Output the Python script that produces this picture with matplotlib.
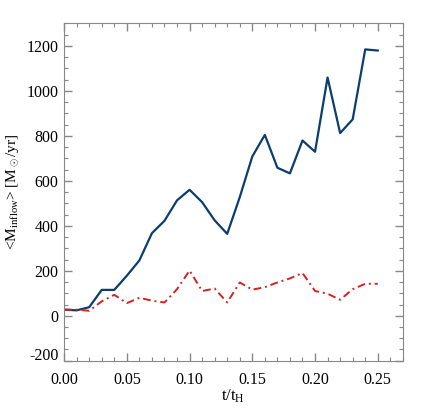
import numpy as np
import matplotlib
matplotlib.use("Agg")
import matplotlib.pyplot as plt
import matplotlib.transforms as mtransforms
from matplotlib.ticker import MultipleLocator

# time in units of the Hubble time
t_h = [0.00, 0.01, 0.02, 0.03, 0.04, 0.05, 0.06, 0.07, 0.08, 0.09,
       0.10, 0.11, 0.12, 0.13, 0.14, 0.15, 0.16, 0.17, 0.18, 0.19,
       0.20, 0.21, 0.22, 0.23, 0.24, 0.25]

# mean inflow rates [Msun/yr]
inflow_total = [27, 24, 38, 115, 115, 178, 246, 367, 422, 513,
                560, 505, 424, 364, 527, 708, 804, 658, 633, 779,
                729, 1059, 812, 873, 1184, 1179]
inflow_cold = [27, 27, 22, 64, 93, 56, 80, 67, 59, 118,
               201, 110, 121, 59, 148, 116, 127, 148, 166, 190,
               110, 98, 71, 118, 142, 142]

xtick_vals = [0, 0.05, 0.10, 0.15, 0.20, 0.25]
xtick_labels = ["0.00", "0.05", "0.10", "0.15", "0.20", "0.25"]
ytick_vals = [-200, 0, 200, 400, 600, 800, 1000, 1200]
ytick_labels = ["-200", "0", "200", "400", "600", "800", "1000", "1200"]

plt.rcParams['font.family'] = ['Liberation Serif', 'DejaVu Serif']
plt.rcParams['mathtext.fontset'] = 'custom'
plt.rcParams['mathtext.rm'] = 'Liberation Serif'
plt.rcParams['mathtext.it'] = 'Liberation Serif:italic'

fig = plt.figure(figsize=(4.36, 4.09), dpi=100)
ax = fig.add_axes([0.147, 0.118, 0.777, 0.825])

ax.plot(t_h, inflow_total, color="#0b3e6e", lw=1.6)
ax.plot(t_h, inflow_cold, color="#d92020", lw=1.4, linestyle=(0, (4, 2, 1, 2)))

ax.set_xlim(0, 0.27)
ax.set_ylim(-200, 1300)
ax.xaxis.set_minor_locator(MultipleLocator(0.01))
ax.yaxis.set_minor_locator(MultipleLocator(50))
ax.set_xticks(xtick_vals)
ax.set_xticklabels(xtick_labels)
ax.set_yticks(ytick_vals)
ax.set_yticklabels(ytick_labels)

ax.tick_params(which="both", direction="in", top=True, right=True,
               color="#888888", labelsize=11.5)
ax.tick_params(which="major", length=6, width=1)
ax.tick_params(which="minor", length=3, width=0.8)
ax.tick_params(axis="x", pad=8)
ax.tick_params(axis="y", pad=4)
for s in ax.spines.values():
    s.set_color("#888888")

# lift the bottom y label a little, like the original
lbl = ax.get_yticklabels()[0]
lbl.set_transform(lbl.get_transform() +
                  mtransforms.ScaledTranslation(0, 5 / 72, fig.dpi_scale_trans))

ax.set_xlabel(r"t/t$_{\rm H}$", fontsize=12, labelpad=0)
ax.set_ylabel(r"<M$_{\rm inflow}$> [M$_\odot$/yr]", fontsize=11)
ax.yaxis.set_label_coords(-0.127, 0.5)

fig.savefig("out.png", dpi=100)
